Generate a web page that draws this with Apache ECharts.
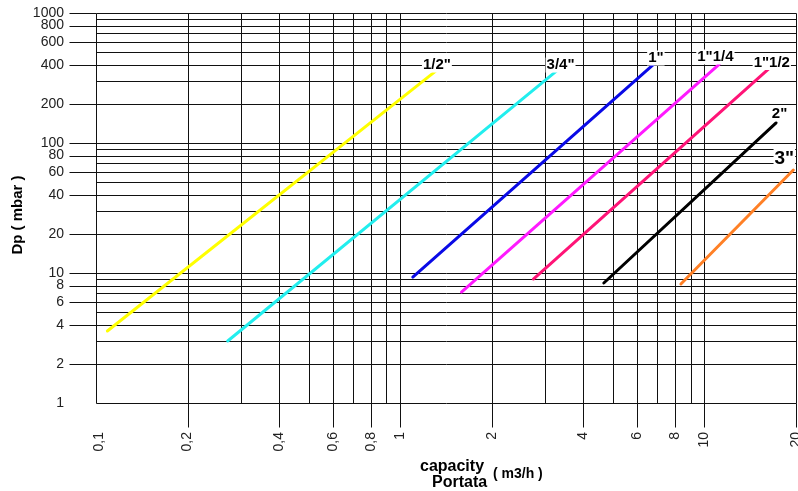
<!DOCTYPE html>
<html>
<head>
<meta charset="utf-8">
<script src="https://cdn.jsdelivr.net/npm/echarts@6/dist/echarts.min.js"></script>
<style>
html,body{margin:0;padding:0;background:#fff;}
#chart{width:798px;height:491px;}
</style>
</head>
<body>
<div id="chart"></div>
<script>
// ---------- DATA ----------
const seriesNames   = ['1/2"', '3/4"', '1"', '1"1/4', '1"1/2', '2"', '3"'];
const capacityStart = [0.109, 0.271, 1.10, 1.59, 2.74, 4.67, 8.37];   // m3/h
const capacityEnd   = [1.32, 3.29, 6.82, 11.2, 16.4, 17.2, 19.6];     // m3/h
const dpStart       = [3.58, 3.0, 9.31, 7.14, 8.99, 8.38, 8.23];      // mbar
const dpEnd         = [364, 364, 405, 405, 378, 143, 62];             // mbar

const xGridValues  = [0.1, 0.2, 0.3, 0.4, 0.5, 0.6, 0.7, 0.8, 0.9, 1, 2, 3, 4, 5, 6, 7, 8, 9, 10, 20];
const xLabelValues = [0.1, 0.2, 0.4, 0.6, 0.8, 1, 2, 4, 6, 8, 10, 20];
const xTickLabels  = ['0,1', '0,2', '0,4', '0,6', '0,8', '1', '2', '4', '6', '8', '10', '20'];

const yGridValues  = [1, 2, 3, 4, 5, 6, 7, 8, 9, 10, 20, 30, 40, 50, 60, 70, 80, 90, 100, 200, 300, 400, 500, 600, 700, 800, 900, 1000];
const yLabelValues = [1, 2, 4, 6, 8, 10, 20, 40, 60, 80, 100, 200, 400, 600, 800, 1000];
const yTickLabels  = ['1', '2', '4', '6', '8', '10', '20', '40', '60', '80', '100', '200', '400', '600', '800', '1000'];

// ---------- STYLE ----------
const X_MIN = 0.1, X_MAX = 20, Y_MIN = 1, Y_MAX = 1000;
const FONT = '"Liberation Sans", Arial, Helvetica, sans-serif';
const colors = ['#ffff00', '#22eeee', '#0a0ae6', '#ff1aff', '#ff1477', '#000000', '#ff8026'];
const labelOffsets = [[0, 3], [3, 3], [2, 2], [-4, 1], [2, 2.5], [3.5, -1], [-9, -1.5]];
const labelSizes = [15, 15, 15, 15, 15, 15, 19];
const GRID_COLOR = '#111';
const TEXT_COLOR = '#222';

function crisp(v) { return Math.round(v) + 0.5; }

function xGridItem(params, api) {
  const v = api.value(0);
  const b = api.coord([v, Y_MIN]);
  const t = api.coord([v, Y_MAX]);
  const x = crisp(b[0]);
  const children = [{
    type: 'line',
    shape: { x1: x, y1: crisp(t[1]), x2: x, y2: crisp(b[1]) },
    style: { stroke: GRID_COLOR, lineWidth: 1 }
  }];
  const idx = xLabelValues.indexOf(v);
  if (idx >= 0) {
    if (v !== X_MIN) {
      children.push({
        type: 'line',
        shape: { x1: x, y1: crisp(b[1]), x2: x, y2: crisp(b[1]) + 24 },
        style: { stroke: GRID_COLOR, lineWidth: 1 }
      });
    }
    children.push({
      type: 'text',
      x: b[0] + (v === X_MIN ? 3 : 0),
      y: b[1] + 29,
      rotation: Math.PI / 2,
      style: {
        text: xTickLabels[idx],
        fill: TEXT_COLOR,
        font: '14px ' + FONT,
        align: 'right',
        verticalAlign: 'middle'
      }
    });
  }
  return { type: 'group', children: children };
}

function yGridItem(params, api) {
  const v = api.value(1);
  const l = api.coord([X_MIN, v]);
  const r = api.coord([X_MAX, v]);
  const y = crisp(l[1]);
  const children = [{
    type: 'line',
    shape: { x1: crisp(l[0]), y1: y, x2: crisp(r[0]), y2: y },
    style: { stroke: GRID_COLOR, lineWidth: 1 }
  }];
  const idx = yLabelValues.indexOf(v);
  if (idx >= 0) {
    if (v !== Y_MIN) {
      children.push({
        type: 'line',
        shape: { x1: crisp(l[0]) - 27, y1: y, x2: crisp(l[0]), y2: y },
        style: { stroke: GRID_COLOR, lineWidth: 1 }
      });
    }
    children.push({
      type: 'text',
      x: l[0] - 32,
      y: l[1],
      style: {
        text: yTickLabels[idx],
        fill: TEXT_COLOR,
        font: '14px ' + FONT,
        align: 'right',
        verticalAlign: 'middle'
      }
    });
  }
  return { type: 'group', children: children };
}

const lineSeries = seriesNames.map((name, i) => ({
  type: 'line',
  name: name,
  z: 5,
  symbol: 'circle',
  symbolSize: 1,
  showSymbol: true,
  lineStyle: { color: colors[i], width: 3, cap: 'round' },
  itemStyle: { color: colors[i] },
  data: [
    [capacityStart[i], dpStart[i]],
    {
      value: [capacityEnd[i], dpEnd[i]],
      label: {
        show: true,
        formatter: name,
        position: 'top',
        distance: 0,
        offset: labelOffsets[i],
        color: '#000',
        fontWeight: 'bold',
        fontSize: labelSizes[i],
        fontFamily: FONT,
        backgroundColor: '#fff',
        padding: [0, 1]
      }
    }
  ]
}));

const chart = echarts.init(document.getElementById('chart'), null, { renderer: 'canvas' });
chart.setOption({
  animation: false,
  backgroundColor: '#fff',
  grid: { left: 96, right: 2, top: 13, bottom: 88, containLabel: false },
  xAxis: {
    type: 'log', logBase: 10, min: X_MIN, max: X_MAX,
    axisLine: { show: false }, axisTick: { show: false },
    axisLabel: { show: false }, splitLine: { show: false }
  },
  yAxis: {
    type: 'log', logBase: 10, min: Y_MIN, max: Y_MAX,
    axisLine: { show: false }, axisTick: { show: false },
    axisLabel: { show: false }, splitLine: { show: false }
  },
  graphic: [
    { type: 'text', x: 18, y: 215, rotation: Math.PI / 2,
      style: { text: 'Dp ( mbar )', font: 'bold 15px ' + FONT, fill: '#000', align: 'center', verticalAlign: 'middle' } },
    { type: 'text', x: 420, y: 467,
      style: { text: 'capacity', font: 'bold 16px ' + FONT, fill: '#000', align: 'left', verticalAlign: 'middle' } },
    { type: 'text', x: 493, y: 474,
      style: { text: '( m3/h )', font: 'bold 14px ' + FONT, fill: '#000', align: 'left', verticalAlign: 'middle' } },
    { type: 'text', x: 432, y: 483,
      style: { text: 'Portata', font: 'bold 16px ' + FONT, fill: '#000', align: 'left', verticalAlign: 'middle' } }
  ],
  series: [
    {
      type: 'custom', name: 'xgrid', z: 1, silent: true, clip: false,
      renderItem: xGridItem,
      encode: { x: 0, y: 1 },
      data: xGridValues.map(v => [v, Y_MIN])
    },
    {
      type: 'custom', name: 'ygrid', z: 1, silent: true, clip: false,
      renderItem: yGridItem,
      encode: { x: 0, y: 1 },
      data: yGridValues.map(v => [X_MIN, v])
    }
  ].concat(lineSeries)
});
</script>
</body>
</html>
